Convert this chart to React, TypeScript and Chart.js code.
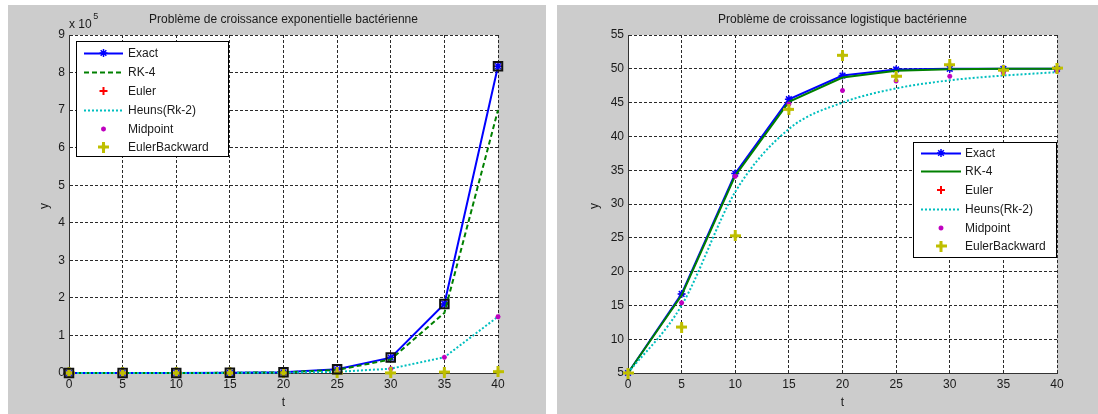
import React, { useEffect, useRef } from "react";
import { Chart, registerables } from "chart.js";
Chart.register(...registerables);

// ---------- data ----------
const tValues = [0, 5, 10, 15, 20, 25, 30, 35, 40];
const xTickStep = 5;

// Exponential growth (left)
const expExact = [5, 22, 100, 450, 2020, 10000, 41000, 184000, 817000];
const expRK4 = [5, 22, 97, 425, 1870, 8200, 36000, 160000, 700000];
const expEuler = [5, 22, 100, 450, 2020, 10000, 41000, 184000, 817000];
const expHeun = [5, 18, 66, 238, 860, 3100, 11500, 42000, 150000];
const expMidpoint = [5, 18, 66, 238, 860, 3100, 11500, 42000, 150000];
const expEulerBackward = [5, 10, 20, 40, 80, 160, 320, 2500, 3500];
const expYTicks = [0, 1, 2, 3, 4, 5, 6, 7, 8, 9];

// Logistic growth (right)
const logExact = [5, 16.7, 34.5, 45.5, 49.0, 49.9, 50.0, 50.0, 50.0];
const logRK4 = [5, 16.5, 34.2, 45.1, 48.7, 49.7, 49.95, 50.0, 50.0];
const logEuler = [5, 16.7, 34.5, 45.5, 49.0, 49.9, 50.0, 50.0, 50.0];
const logHeun = [5, 15.0, 31.8, 41.1, 45.0, 47.1, 48.3, 49.0, 49.5];
const logMidpoint = [5, 15.4, 34.1, 44.8, 46.8, 48.2, 48.9, 49.4, 49.7];
const logEulerBackward = [5, 11.8, 25.3, 44.0, 52.0, 48.9, 50.6, 49.8, 50.1];

const legendLabels = ["Exact", "RK-4", "Euler", "Heuns(Rk-2)", "Midpoint", "EulerBackward"];

const titleLeft = "Problème de croissance exponentielle bactérienne";
const titleRight = "Problème de croissance logistique bactérienne";

// ---------- styles ----------
const FONT = "'Liberation Sans', Arial, sans-serif";
const BLUE = "#0000ff";
const GREEN = "#008000";
const RED = "#ff0000";
const CYAN = "#00bfbf";
const MAGENTA = "#bf00bf";
const YELLOW = "#bfbf00";
const GRAY = "#cccccc";
const TEXT = "#1a1a1a";

function makeFatPlus(color: string, size: number): HTMLCanvasElement {
  const c = document.createElement("canvas");
  c.width = size;
  c.height = size;
  const g = c.getContext("2d")!;
  const m = size / 2;
  g.fillStyle = color;
  g.fillRect(m - 1.5, 0, 3, size);
  g.fillRect(0, m - 1.5, size, 3);
  g.beginPath();
  const d = 3.6;
  g.moveTo(m, m - d);
  g.lineTo(m + d, m);
  g.lineTo(m, m + d);
  g.lineTo(m - d, m);
  g.closePath();
  g.fill();
  return c;
}

function pts(data: number[]) {
  return tValues.map((t, i) => ({ x: t, y: data[i] }));
}

// marker drawing for the legend
function drawStar(ctx: CanvasRenderingContext2D, x: number, y: number, r: number, color: string, lw: number) {
  ctx.save();
  ctx.strokeStyle = color;
  ctx.lineWidth = lw;
  ctx.beginPath();
  ctx.moveTo(x - r, y);
  ctx.lineTo(x + r, y);
  ctx.moveTo(x, y - r);
  ctx.lineTo(x, y + r);
  const d = r * Math.SQRT1_2;
  ctx.moveTo(x - d, y - d);
  ctx.lineTo(x + d, y + d);
  ctx.moveTo(x - d, y + d);
  ctx.lineTo(x + d, y - d);
  ctx.stroke();
  ctx.restore();
}
function drawCross(ctx: CanvasRenderingContext2D, x: number, y: number, r: number, color: string, lw: number) {
  ctx.save();
  ctx.strokeStyle = color;
  ctx.lineWidth = lw;
  ctx.beginPath();
  ctx.moveTo(x - r, y);
  ctx.lineTo(x + r, y);
  ctx.moveTo(x, y - r);
  ctx.lineTo(x, y + r);
  ctx.stroke();
  ctx.restore();
}

type PanelSpec = {
  title: string;
  titleX: number;
  labelYX: number;
  exponent: boolean;
  legend: { x: number; y: number; w: number; h: number; rows: number[]; sx1: number; sx2: number; tx: number };
  rkDash: number[];
};

function makePlugin(spec: PanelSpec, ebImg: HTMLCanvasElement) {
  return {
    id: "decor",
    beforeDraw(chart: any) {
      const { ctx, chartArea: a, width, height } = chart;
      ctx.save();
      ctx.fillStyle = GRAY;
      ctx.fillRect(0, 0, width, height);
      ctx.fillStyle = "#ffffff";
      ctx.fillRect(a.left, a.top, a.right - a.left, a.bottom - a.top);
      ctx.restore();
    },
    afterDraw(chart: any) {
      const { ctx } = chart;
      ctx.save();
      ctx.fillStyle = TEXT;
      ctx.font = `12px ${FONT}`;
      ctx.textAlign = "center";
      ctx.textBaseline = "middle";
      ctx.fillText(spec.title, spec.titleX, 15);
      ctx.fillText("t", spec.titleX, 398);
      ctx.save();
      ctx.translate(spec.labelYX, 201);
      ctx.rotate(-Math.PI / 2);
      ctx.fillText("y", 0, 0);
      ctx.restore();
      if (spec.exponent) {
        ctx.textAlign = "left";
        ctx.fillText("x 10", 61, 20);
        const w = ctx.measureText("x 10").width;
        ctx.font = `9px ${FONT}`;
        ctx.fillText("5", 61 + w + 1.5, 12);
      }
      // legend
      const L = spec.legend;
      ctx.fillStyle = "#ffffff";
      ctx.fillRect(L.x, L.y, L.w, L.h);
      ctx.strokeStyle = "#000000";
      ctx.lineWidth = 1;
      ctx.strokeRect(L.x + 0.5, L.y + 0.5, L.w - 1, L.h - 1);
      const mid = (L.sx1 + L.sx2) / 2;
      ctx.font = `12px ${FONT}`;
      ctx.textAlign = "left";
      ctx.textBaseline = "middle";
      legendLabels.forEach((lab, i) => {
        const y = L.rows[i];
        ctx.save();
        if (i === 0 || i === 1 || i === 3) {
          ctx.beginPath();
          ctx.lineWidth = 2;
          ctx.strokeStyle = i === 0 ? BLUE : i === 1 ? GREEN : CYAN;
          ctx.setLineDash(i === 0 ? [] : i === 1 ? spec.rkDash : [2, 2]);
          ctx.moveTo(L.sx1, y + 0.5);
          ctx.lineTo(L.sx2, y + 0.5);
          ctx.stroke();
        }
        ctx.restore();
        if (i === 0) drawStar(ctx, mid, y, 4, BLUE, 1.5);
        if (i === 2) drawCross(ctx, mid, y, 4, RED, 2);
        if (i === 4) drawStar(ctx, mid, y, 2.5, MAGENTA, 1.5);
        if (i === 5) ctx.drawImage(ebImg, mid - ebImg.width / 2, y - ebImg.height / 2);
        ctx.fillStyle = TEXT;
        ctx.fillText(lab, L.tx, y + 0.5);
      });
      ctx.restore();
    },
  };
}

function makeConfig(isExp: boolean): any {
  const ebImg = makeFatPlus(YELLOW, 11);
  const exact = isExp ? expExact : logExact;
  const rk4 = isExp ? expRK4 : logRK4;
  const euler = isExp ? expEuler : logEuler;
  const heun = isExp ? expHeun : logHeun;
  const midp = isExp ? expMidpoint : logMidpoint;
  const eb = isExp ? expEulerBackward : logEulerBackward;
  const rkDash = isExp ? [5, 3] : [];

  const datasets: any[] = [
    {
      label: legendLabels[0], data: pts(exact), showLine: true, borderColor: BLUE, borderWidth: 2,
      pointStyle: "star", pointRadius: 4, pointBorderWidth: 1.5, pointBorderColor: BLUE, pointBackgroundColor: BLUE,
      order: 7, clip: false,
    },
    {
      label: legendLabels[1], data: pts(rk4), showLine: true, borderColor: GREEN, borderWidth: 2,
      borderDash: rkDash, pointRadius: 0, order: 6, clip: false,
    },
    {
      label: legendLabels[2], data: pts(euler), showLine: false, pointStyle: "cross", pointRadius: 3,
      pointBorderWidth: 1.5, pointBorderColor: RED, pointBackgroundColor: RED, order: 8, clip: false,
    },
    {
      label: legendLabels[3], data: pts(heun), showLine: true, borderColor: CYAN, borderWidth: 2,
      borderDash: [2, 2], pointRadius: 0, order: 5, clip: false,
      cubicInterpolationMode: isExp ? "default" : "monotone",
    },
    {
      label: legendLabels[4], data: pts(midp), showLine: false, pointStyle: "star", pointRadius: 2.5,
      pointBorderWidth: 1.5, pointBorderColor: MAGENTA, pointBackgroundColor: MAGENTA, order: 4, clip: false,
    },
    {
      label: legendLabels[5], data: pts(eb), showLine: false, pointStyle: ebImg, pointRadius: 5,
      order: 3, clip: false,
    },
  ];
  if (isExp) {
    datasets.push({
      label: "exact-squares", data: pts(exact), showLine: false, pointStyle: "rect", pointRadius: 6,
      pointBorderWidth: 2, pointBorderColor: "#111111", pointBackgroundColor: "rgba(0,0,0,0)", order: 2, clip: false,
    });
  }

  const tickFont = { family: FONT, size: 12 };
  const spec: PanelSpec = isExp
    ? {
        title: titleLeft, titleX: 275.5, labelYX: 37, exponent: true,
        legend: { x: 68, y: 36, w: 153, h: 116, rows: [48, 67, 86, 105, 124, 142], sx1: 76, sx2: 115, tx: 120 },
        rkDash,
      }
    : {
        title: titleRight, titleX: 285.5, labelYX: 38, exponent: false,
        legend: { x: 356, y: 137, w: 144, h: 116, rows: [148, 166, 185, 204, 223, 241], sx1: 364, sx2: 404, tx: 408 },
        rkDash,
      };

  return {
    type: "scatter",
    data: { datasets },
    options: {
      responsive: false,
      animation: false,
      devicePixelRatio: 1,
      events: [],
      layout: { padding: { left: 0, top: 30, right: isExp ? 48 : 41, bottom: 0 } },
      plugins: { legend: { display: false }, title: { display: false }, tooltip: { enabled: false } },
      scales: {
        x: {
          type: "linear", min: 0, max: 40,
          ticks: { stepSize: xTickStep, color: TEXT, font: tickFont, padding: 4, maxRotation: 0, autoSkip: false },
          grid: { color: "#2a2a2a", lineWidth: 1, drawTicks: false },
          border: { display: true, color: "#333333", width: 1, dash: [3, 2] },
          afterFit: (s: any) => { s.height = 41; },
        },
        y: {
          type: "linear",
          min: isExp ? 0 : 5,
          max: isExp ? 900000 : 55,
          ticks: {
            stepSize: isExp ? 100000 : 5, color: TEXT, font: tickFont, padding: 4, autoSkip: false,
            callback: (v: number) => (isExp ? String(expYTicks[Math.round(v / 100000)]) : String(v)),
          },
          grid: { color: "#2a2a2a", lineWidth: 1, drawTicks: false },
          border: { display: true, color: "#333333", width: 1, dash: [3, 2] },
          afterFit: (s: any) => { s.width = isExp ? 61 : 71; },
        },
      },
    },
    plugins: [makePlugin(spec, ebImg)],
  };
}

function Panel({ isExp, left, width }: { isExp: boolean; left: number; width: number }) {
  const ref = useRef<HTMLCanvasElement>(null);
  useEffect(() => {
    const chart = new Chart(ref.current!, makeConfig(isExp));
    return () => chart.destroy();
  }, [isExp]);
  return (
    <canvas
      ref={ref}
      width={width}
      height={409}
      style={{ position: "absolute", left, top: 5, width, height: 409, display: "block" }}
    />
  );
}

export default function App() {
  return (
    <div style={{ position: "absolute", left: 0, top: 0, width: 1098, height: 414, background: "#ffffff", overflow: "hidden" }}>
      <Panel isExp={true} left={8} width={538} />
      <Panel isExp={false} left={557} width={541} />
    </div>
  );
}
